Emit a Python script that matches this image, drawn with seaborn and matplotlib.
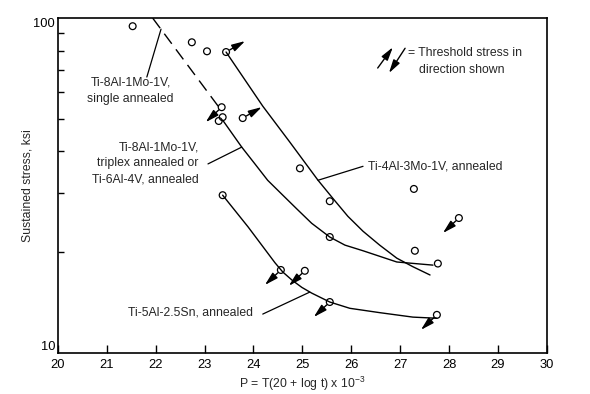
import numpy as np
import pandas as pd
import matplotlib
matplotlib.use("Agg")
import matplotlib.pyplot as plt
import matplotlib.ticker as mticker
import matplotlib.transforms as mtransforms
import seaborn as sns

# curves (P, stress ksi)
curve_a_x = [23.44, 24.19, 24.74, 25.32, 25.62, 25.93, 26.24, 26.58, 26.93, 27.26, 27.61]
curve_a_y = [79.2, 54.6, 42.7, 32.8, 29.0, 25.6, 23.1, 21.0, 19.2, 18.1, 17.1]
curve_b_x = [23.37, 23.76, 24.03, 24.29, 24.60, 24.89, 25.19, 25.56, 25.87, 26.24, 26.93, 27.67]
curve_b_y = [49.6, 41.2, 36.7, 32.8, 29.6, 26.9, 24.4, 22.2, 21.0, 20.2, 18.7, 18.3]
curve_c_x = [23.37, 23.89, 24.44, 24.60, 24.79, 24.99, 25.19, 25.56, 25.97, 26.58, 27.26, 27.75]
curve_c_y = [29.6, 23.8, 18.6, 17.45, 16.5, 15.7, 15.1, 14.2, 13.6, 13.2, 12.8, 12.7]
curve_d_x = [21.94, 23.31]
curve_d_y = [100.0, 53.8]

# test points; arrow = threshold direction
pts_x = [21.53, 22.74, 23.05, 23.44, 23.35, 23.37, 23.29, 23.78, 23.37, 24.95,
         25.56, 27.28, 25.56, 27.30, 27.77, 28.20, 27.75, 25.56, 25.05, 24.56]
pts_y = [94.6, 84.7, 79.6, 79.2, 54.2, 50.6, 49.3, 50.3, 29.6, 35.6,
         28.4, 30.9, 22.2, 20.2, 18.5, 25.3, 13.0, 14.2, 17.6, 17.7]
pts_arrow = [None, None, None, "up", "down", None, None, "up", None, None,
             None, None, None, None, None, "down", "down", "down", "down", "down"]

x_ticks = list(range(20, 31))
y_minor = [20, 30, 40, 50, 60, 70, 80, 90]

sns.set_theme(style="white")
plt.rcParams["font.family"] = ["Liberation Sans", "DejaVu Sans"]
plt.rcParams["mathtext.fontset"] = "custom"
plt.rcParams["mathtext.rm"] = "Liberation Sans"
fs = 8.8

fig = plt.figure(figsize=(5.9, 3.94), dpi=100)
ax = fig.add_axes([0.098, 0.104, 0.829, 0.850])

for cx, cy in [(curve_a_x, curve_a_y), (curve_b_x, curve_b_y), (curve_c_x, curve_c_y)]:
    sns.lineplot(x=cx, y=cy, ax=ax, color="black", lw=1.0, sort=False, estimator=None)
sns.lineplot(x=curve_d_x, y=curve_d_y, ax=ax, color="black", lw=1.0, sort=False,
             estimator=None, dashes=False, linestyle=(0, (9, 5)))

pts = pd.DataFrame({"P": pts_x, "S": pts_y})
sns.scatterplot(data=pts, x="P", y="S", ax=ax, marker="o", s=24,
                facecolors="none", edgecolors="black", linewidth=0.9, zorder=3)

offsets = {"up": (13.7, 7.9), "down": (-11.5, -10.8)}
arrow_kw = dict(arrowstyle="-|>,head_length=0.8,head_width=0.22", color="black",
                lw=1.0, mutation_scale=10, shrinkA=3, shrinkB=0)
for px, py, d in zip(pts_x, pts_y, pts_arrow):
    if d is None:
        continue
    dx, dy = offsets[d]
    tip = mtransforms.offset_copy(ax.transData, fig=fig, x=dx, y=dy, units="points")
    ax.annotate("", xy=(px, py), xycoords=tip, xytext=(px, py), textcoords="data",
                arrowprops=arrow_kw)

# labels with leader lines
line_kw = dict(arrowstyle="-", color="black", lw=0.9, shrinkA=0, shrinkB=0)
ax.text(21.49, 60.5, "Ti-8Al-1Mo-1V,\nsingle annealed", ha="center", va="center",
        fontsize=fs, linespacing=1.5)
ax.annotate("", xy=(22.11, 92.7), xytext=(21.82, 66.7), arrowprops=line_kw)

ax.text(22.88, 36.9, "Ti-8Al-1Mo-1V,\ntriplex annealed or\nTi-6Al-4V, annealed",
        ha="right", va="center", fontsize=fs, linespacing=1.45, multialignment="right")
ax.annotate("", xy=(23.76, 41.2), xytext=(23.07, 36.7), arrowprops=line_kw)

ax.text(26.34, 36.1, "Ti-4Al-3Mo-1V, annealed", ha="left", va="center", fontsize=fs)
ax.annotate("", xy=(25.32, 32.8), xytext=(26.24, 36.1), arrowprops=line_kw)

ax.text(23.99, 13.2, "Ti-5Al-2.5Sn, annealed", ha="right", va="center", fontsize=fs)
ax.annotate("", xy=(25.15, 15.2), xytext=(24.19, 13.07), arrowprops=line_kw)

# key for the arrows
key_kw = dict(arrowprops=dict(arrowstyle="-|>,head_length=0.8,head_width=0.22",
                              color="black", lw=1.0, mutation_scale=10,
                              shrinkA=0, shrinkB=0),
              xycoords="axes fraction", textcoords="axes fraction")
ax.annotate("", xy=(0.685, 0.913), xytext=(0.654, 0.851), **key_kw)
ax.annotate("", xy=(0.677, 0.836), xytext=(0.710, 0.910), **key_kw)
ax.text(0.716, 0.896, "= Threshold stress in", transform=ax.transAxes,
        ha="left", va="center", fontsize=fs)
ax.text(0.738, 0.845, "direction shown", transform=ax.transAxes,
        ha="left", va="center", fontsize=fs)

ax.set_yscale("log")
ax.set_xlim(20, 30)
ax.set_ylim(10, 100)
ax.set_xticks(x_ticks)
ax.set_xticklabels([str(t) for t in x_ticks])
ax.yaxis.set_major_locator(mticker.FixedLocator([10, 100]))
ax.yaxis.set_major_formatter(mticker.FixedFormatter(["10", "100"]))
ax.yaxis.set_minor_locator(mticker.FixedLocator(y_minor))
ax.yaxis.set_minor_formatter(mticker.NullFormatter())

ax.tick_params(axis="x", which="major", direction="in", length=6, width=1.0,
               labelsize=9.3, pad=4, bottom=True, top=False, colors="black")
ax.tick_params(axis="y", which="major", direction="in", length=0, labelsize=9.3,
               pad=2, left=True, right=False, colors="black")
ax.tick_params(axis="y", which="minor", direction="in", length=4, width=1.0,
               left=True, right=False, colors="black")
ylabs = ax.get_yticklabels()
ylabs[0].set_va("bottom")
ylabs[1].set_va("top")

for s in ax.spines.values():
    s.set_visible(True)
    s.set_color("black")
    s.set_linewidth(1.2)

ax.set_xlabel("P = T(20 + log t) x 10$^{-3}$", fontsize=fs, labelpad=3)
ax.set_ylabel("Sustained stress, ksi", fontsize=fs, labelpad=0)

fig.savefig("out.png", dpi=100, facecolor="white")
